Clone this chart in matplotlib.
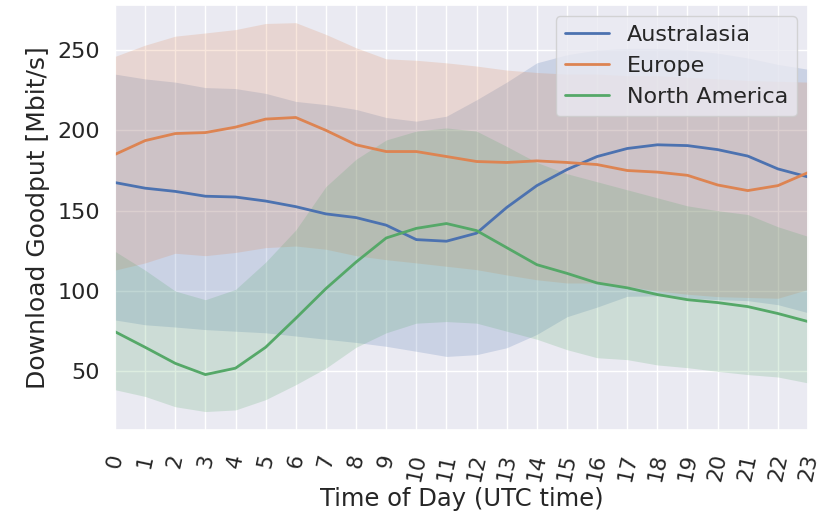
import matplotlib
matplotlib.use("Agg")
import matplotlib.pyplot as plt
import seaborn as sns

hours = list(range(24))

# mean goodput per region
australasia = [167.5, 164, 162, 159, 158.5, 156, 152.5, 148, 145.7, 141, 132, 131,
               136, 152, 165.6, 175.6, 183.7, 188.7, 191, 190.5, 188, 184, 176, 171]
europe = [185, 193.6, 198, 198.6, 202, 207, 208, 200, 191, 186.8, 186.8, 183.7,
          180.6, 180, 181, 180, 178.7, 175, 174, 172, 166, 162.5, 165.6, 173.7]
north_america = [74.7, 65, 55, 48, 52, 65, 83, 101.5, 118, 133, 139, 142,
                 137.6, 127, 116.4, 111, 105, 102, 97.8, 94.6, 92.8, 90.3, 86, 81]

# spread bands (lower / upper)
australasia_lo = [82, 79, 77.6, 76, 75, 74, 72, 70, 68, 65.6, 62.5, 59.3,
                  60.4, 64.7, 73, 84, 90, 96.7, 97, 95.7, 94.6, 94, 91.5, 86.5]
australasia_hi = [235, 232, 230, 226.6, 226, 223, 218, 216, 213, 208, 205.7, 208.8,
                  219, 230, 242, 247, 250, 251, 251, 250, 248, 245, 241, 238]
europe_lo = [113, 117.5, 123.5, 122, 124, 127, 128, 126, 122, 119.5, 117.5, 115.4,
             113.3, 110, 107, 105, 105, 103, 100, 98, 96.5, 96, 95.5, 101]
europe_hi = [246, 253, 258.6, 260.6, 262.7, 266.5, 267, 259.7, 251.4, 244.5, 243.6, 242,
             240, 237.5, 236, 235, 235, 234, 234, 233, 232, 231, 230.5, 230]
north_america_lo = [38.6, 34.4, 28, 25, 26, 32.4, 41.7, 52, 65, 74, 80, 81,
                    80, 75, 70, 63.5, 58.5, 57.3, 54, 52.3, 50, 48, 46.5, 42.8]
north_america_hi = [124.7, 113, 100, 94.6, 101, 118, 138, 165, 182, 194, 199.5, 201.5,
                    199.5, 190, 180, 173, 168, 163, 158, 153, 150, 147.6, 140, 134]

labels = ["Australasia", "Europe", "North America"]
colors = ["#4C72B0", "#DD8452", "#55A868"]

sns.set_theme(style="darkgrid")
plt.rcParams['font.family'] = ['DejaVu Sans']

fig = plt.figure(figsize=(8.29, 5.15), dpi=100)
ax = fig.add_axes([0.1387, 0.165, 0.836, 0.8253])

series = [
    (australasia, australasia_lo, australasia_hi),
    (europe, europe_lo, europe_hi),
    (north_america, north_america_lo, north_america_hi),
]
for (mean, lo, hi), label, color in zip(series, labels, colors):
    ax.plot(hours, mean, color=color, linewidth=2, label=label)
    ax.fill_between(hours, lo, hi, color=color, alpha=0.2, linewidth=0)

ax.set_xlim(0, 23)
ax.set_ylim(13.5, 278)
ax.set_xticks(hours)
ax.set_xticklabels([str(h) for h in hours], rotation=78, fontsize=15.5)
ax.set_yticks([50, 100, 150, 200, 250])
ax.tick_params(axis='y', labelsize=16, pad=5)
ax.tick_params(axis='x', pad=10)
ax.set_xlabel("Time of Day (UTC time)", fontsize=17.5, labelpad=3)
ax.set_ylabel("Download Goodput [Mbit/s]", fontsize=18, labelpad=5)
ax.legend(loc="upper right", fontsize=16)

fig.savefig("out.png", dpi=100)
